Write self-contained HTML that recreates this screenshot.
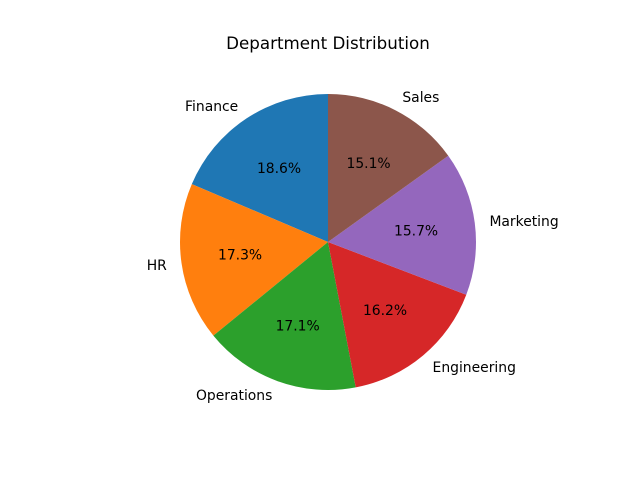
<!DOCTYPE html>
<html><head><meta charset="utf-8"><style>
body{margin:0;background:#fff;}
svg text{font-family:"DejaVu Sans","Liberation Sans",sans-serif;}
</style></head><body>
<svg id="chart" width="640" height="480">
<rect width="640" height="480" fill="#fff"/>
<text x="328" y="49" text-anchor="middle" font-size="16.7">Department Distribution</text>
<g id="slices"></g>
</svg>
<script>
const categories = ["Finance","HR","Operations","Engineering","Marketing","Sales"];
const values = [18.6,17.3,17.1,16.2,15.7,15.1];
const colors = ["#1f77b4","#ff7f0e","#2ca02c","#d62728","#9467bd","#8c564b"];
const cx=328, cy=242, r=148;
const g=document.getElementById('slices');
const NS='http://www.w3.org/2000/svg';
const total=values.reduce((a,b)=>a+b,0);
let ang=90;
function pt(a,rr){const t=a*Math.PI/180;return [cx+rr*Math.cos(t), cy-rr*Math.sin(t)];}
values.forEach((v,i)=>{
  const sweep=v/total*360;
  const a0=ang, a1=ang+sweep;
  const [x0,y0]=pt(a0,r),[x1,y1]=pt(a1,r);
  const p=document.createElementNS(NS,'path');
  p.setAttribute('d',`M${cx},${cy} L${x0},${y0} A${r},${r} 0 ${sweep>180?1:0} 0 ${x1},${y1} Z`);
  p.setAttribute('fill',colors[i]);
  
  
  g.appendChild(p);
  const mid=(a0+a1)/2;
  const [lx,ly]=pt(mid,r*1.1);
  const t=document.createElementNS(NS,'text');
  t.setAttribute('x',lx);t.setAttribute('y',ly+5);t.setAttribute('font-size','13.9');
  t.setAttribute('text-anchor',lx<cx?'end':'start');
  t.textContent=categories[i];
  
  
  g.appendChild(t);
  const [px,py]=pt(mid,r*0.6);
  const q=document.createElementNS(NS,'text');
  q.setAttribute('x',px);q.setAttribute('y',py+5);q.setAttribute('font-size','13.9');
  q.setAttribute('text-anchor','middle');
  q.textContent=(v/total*100).toFixed(1)+'%';
  
  
  g.appendChild(q);
  ang=a1;
});
</script>
</body></html>
